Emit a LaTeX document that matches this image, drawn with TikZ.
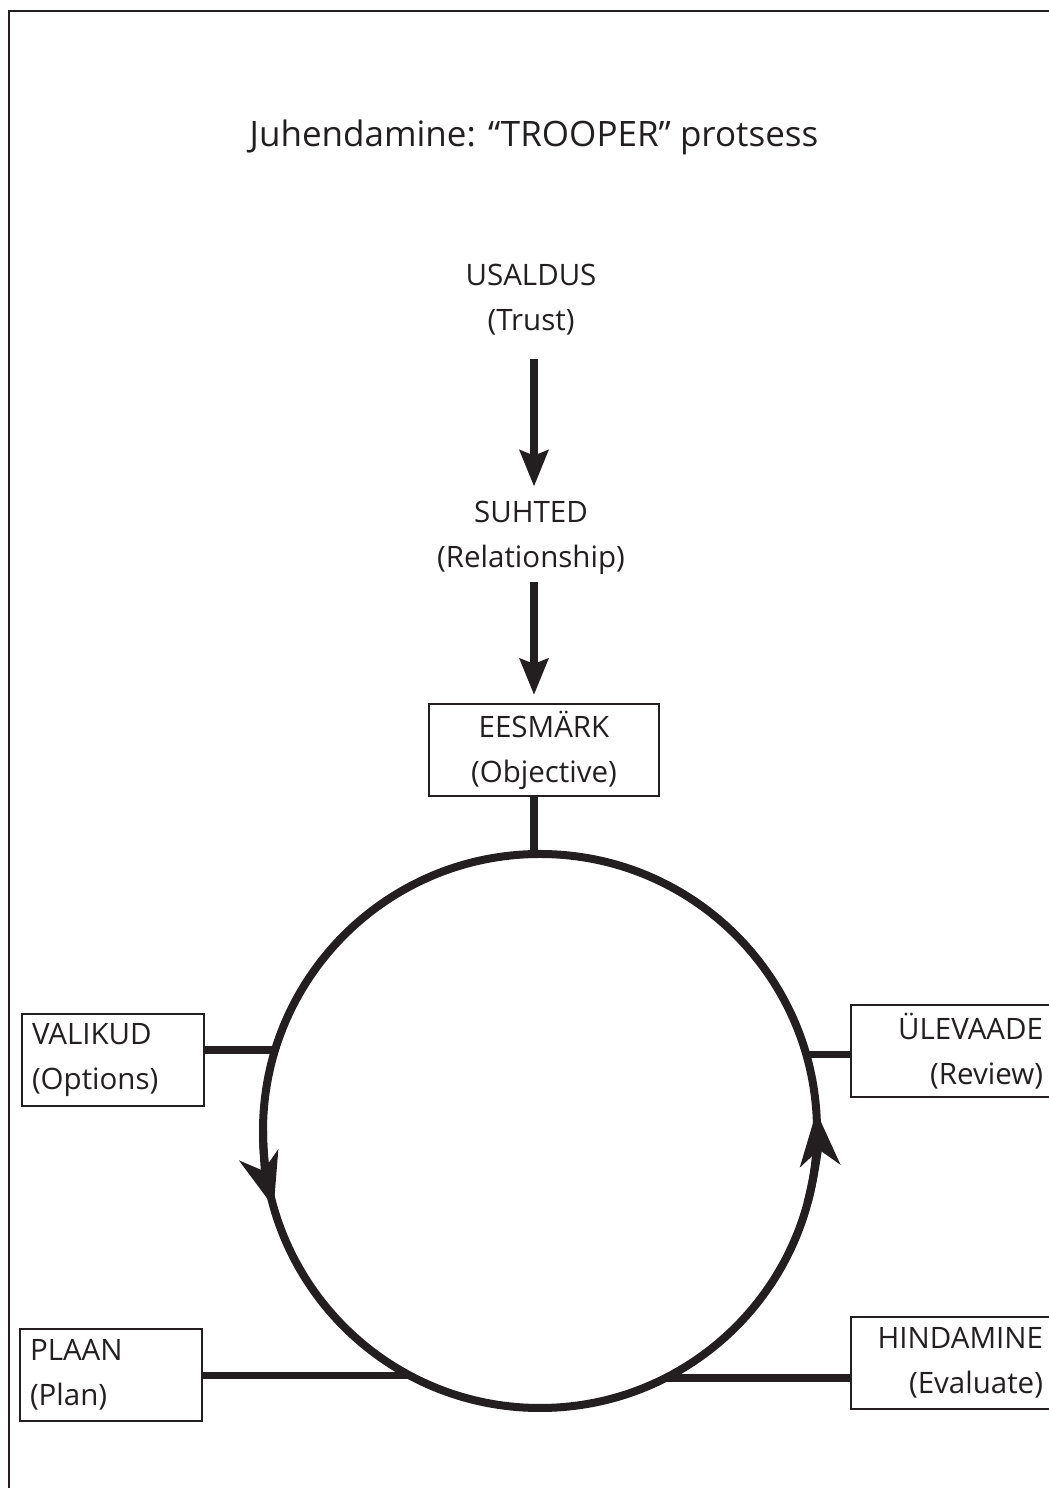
\documentclass[tikz,border=0pt]{standalone}
\usepackage{fontspec}
\setmainfont{Open Sans}
\usetikzlibrary{arrows.meta}
\definecolor{ink}{HTML}{231F20}
\begin{document}
\begin{tikzpicture}[x=1pt,y=1pt,
  every node/.style={text=ink, inner sep=0pt},
  lbl/.style={font=\fontsize{29.5}{45}\selectfont, align=center},
  box/.style={draw=ink, line width=2pt, font=\fontsize{29.5}{45}\selectfont, minimum height=92pt, inner ysep=0pt},
  lbox/.style={box, text width=162pt, inner xsep=10pt, align=left},
  rbox/.style={box, text width=184pt, inner xsep=8pt, align=right},
  thickline/.style={draw=ink, line width=7.5pt},
  bigarrow/.style={draw=ink, line width=8pt, -{Stealth[length=36pt,width=28pt,inset=5pt]}},
  circarrow/.style={draw=ink, line width=8pt, -{Stealth[length=54pt,width=40pt,inset=16pt]}},
]
\clip (0,0) rectangle (1049,1488);
\draw[ink, line width=1.5pt] (9,0) -- (9,1477) -- (1049,1477);

\node[font=\fontsize{35}{42}\selectfont] (title) at (534,1351) {Juhendamine: “TROOPER” protsess};

\node[lbl] (usaldus) at (531,1188) {USALDUS\\(Trust)};
\node[lbl] (suhted) at (531,950) {SUHTED\\(Relationship)};
\node[box, text width=230pt, inner xsep=0pt, align=center] (eesmark) at (544,738) {EESMÄRK\\(Objective)};

\node[lbox] (valikud) at (113,428) {VALIKUD\\(Options)};
\node[lbox] (plaan) at (111,113) {PLAAN\\(Plan)};
\node[rbox] (ulevaade) at (951,436.5) {ÜLEVAADE\\(Review)};
\node[rbox] (hindamine) at (951,125) {HINDAMINE\\(Evaluate)};

\node[circle, draw=ink, line width=8pt, minimum size=554pt, inner sep=0pt, outer sep=0pt] (circ) at (540,357) {};

\draw[bigarrow, shorten <=23.5pt, shorten >=14.5pt] (usaldus.south -| 534,0) -- (suhted.north -| 534,0);
\draw[bigarrow, shorten <=7.5pt, shorten >=8pt] (suhted.south -| 534,0) -- (eesmark.north -| 534,0);
\draw[thickline] (eesmark.south -| 534,0) -- (circ.north -| 534,0);

\draw[thickline] (valikud.east |- circ.163.4) -- (circ.163.4);
\draw[thickline] (ulevaade.west |- circ.16.4) -- (circ.16.4);
\draw[thickline] (plaan.east |- circ.242.6) -- (circ.242.6);
\draw[thickline] (hindamine.west |- circ.297.4) -- (circ.297.4);

\draw[circarrow] (circ.180) arc[start angle=180, end angle=196, radius=277pt];
\draw[circarrow] (circ.-15) arc[start angle=-15, end angle=4, radius=277pt];
\end{tikzpicture}
\end{document}
